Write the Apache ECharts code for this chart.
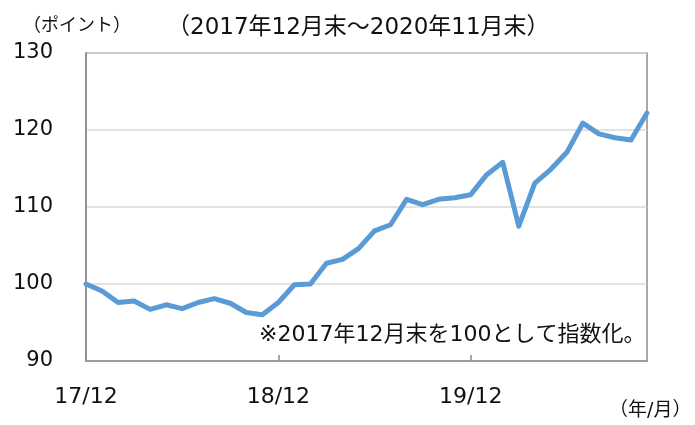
<!DOCTYPE html>
<html>
<head>
<meta charset="utf-8">
<script src="https://cdn.jsdelivr.net/npm/echarts@6/dist/echarts.min.js"></script>
<style>
html,body{margin:0;padding:0;background:#fff;}
#c{width:695px;height:425px;}
</style>
</head>
<body>
<div id="c"></div>
<script>
var categories = ["17/12","18/01","18/02","18/03","18/04","18/05","18/06","18/07","18/08","18/09","18/10","18/11",
  "18/12","19/01","19/02","19/03","19/04","19/05","19/06","19/07","19/08","19/09","19/10","19/11",
  "19/12","20/01","20/02","20/03","20/04","20/05","20/06","20/07","20/08","20/09","20/10","20/11"];
var indexValues = [100.0, 99.1, 97.6, 97.8, 96.7, 97.3, 96.8, 97.6, 98.1, 97.5, 96.3, 96.0,
  97.6, 99.9, 100.0, 102.7, 103.2, 104.6, 106.9, 107.7, 111.0, 110.3, 111.0, 111.2,
  111.6, 114.2, 115.8, 107.5, 113.1, 114.9, 117.1, 120.9, 119.5, 119.0, 118.7, 122.2];
var yTicks = [90, 100, 110, 120, 130];
var unitLabel = "（ポイント）";
var periodLabel = "（2017年12月末～2020年11月末）";
var noteLabel = "※2017年12月末を100として指数化。";
var xUnitLabel = "（年/月）";

var FONT = '"DejaVu Sans", "Noto Sans CJK JP", sans-serif';
var chart = echarts.init(document.getElementById('c'), null, {renderer: 'canvas'});
chart.setOption({
  animation: false,
  backgroundColor: '#ffffff',
  grid: {left: 86, right: 48, top: 53, bottom: 64, show: true, borderColor: '#8c8c8c', borderWidth: 1.5, containLabel: false},
  xAxis: {
    type: 'category',
    data: categories,
    boundaryGap: false,
    axisLine: {lineStyle: {color: '#8c8c8c', width: 1.5}},
    axisTick: {show: true, inside: true, length: 6, interval: 11, lineStyle: {color: '#8c8c8c', width: 1.5}},
    axisLabel: {interval: 11, margin: 25, color: '#111', fontFamily: FONT, fontSize: 22},
    splitLine: {show: false}
  },
  yAxis: {
    type: 'value',
    min: yTicks[0], max: yTicks[yTicks.length - 1], interval: 10,
    axisLine: {show: true, lineStyle: {color: '#8c8c8c', width: 1.5}},
    axisTick: {show: false},
    axisLabel: {margin: 33, color: '#111', fontFamily: FONT, fontSize: 21},
    splitLine: {show: true, lineStyle: {color: '#d9d9d9', width: 1.5}}
  },
  series: [{
    type: 'line',
    data: indexValues,
    showSymbol: false,
    symbol: 'none',
    lineStyle: {color: '#5b9bd5', width: 5, join: 'round', cap: 'round'},
    itemStyle: {color: '#5b9bd5'},
    z: 3
  }],
  graphic: [
    {type: 'text', left: 23, top: 17, style: {text: unitLabel, font: '18px ' + FONT, fill: '#111'}},
    {type: 'text', left: 167, top: 17, style: {text: periodLabel, font: '23px ' + FONT, fill: '#111'}},
    {type: 'text', left: 259, top: 324, z: 10, style: {text: noteLabel, font: '22px ' + FONT, fill: '#111'}},
    {type: 'text', left: 609, top: 402, style: {text: xUnitLabel, font: '19px ' + FONT, fill: '#111'}}
  ]
});
</script>
</body>
</html>
